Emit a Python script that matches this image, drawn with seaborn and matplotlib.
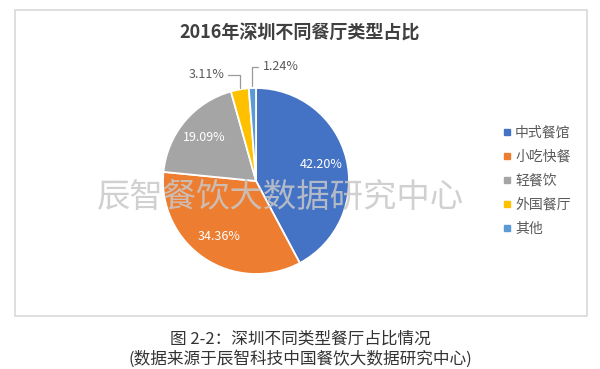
import matplotlib
matplotlib.use("Agg")
import matplotlib.pyplot as plt
import seaborn as sns
from matplotlib.patches import Rectangle
from matplotlib.lines import Line2D
import numpy as np

# data
categories = ["中式餐馆", "小吃快餐", "轻餐饮", "外国餐厅", "其他"]
shares = [42.20, 34.36, 19.09, 3.11, 1.24]
colors = ["#4472C4", "#ED7D31", "#A5A5A5", "#FFC000", "#5B9BD5"]

title = "2016年深圳不同餐厅类型占比"
watermark = "辰智餐饮大数据研究中心"
caption1 = "图 2-2：深圳不同类型餐厅占比情况"
caption2 = "(数据来源于辰智科技中国餐饮大数据研究中心)"

sns.set_theme(style="white")
plt.rcParams["font.family"] = ["Noto Sans CJK SC", "DejaVu Sans"]

fig = plt.figure(figsize=(6, 3.69), dpi=100)
fig.patch.set_facecolor("white")

# chart frame
fig.patches.append(Rectangle((15 / 600, 1 - 316 / 369), 572 / 600, 306 / 369,
                             transform=fig.transFigure, fill=False,
                             edgecolor="#d9d9d9", lw=1.2))

ax = fig.add_axes([0.2717, 0.2575, 0.31, 0.504])


def fmt(p):
    return "%.2f%%" % p if p >= 5 else ""


wedges, texts, autotexts = ax.pie(
    shares, colors=colors, startangle=90, counterclock=False,
    autopct=fmt, pctdistance=0.72,
    wedgeprops=dict(edgecolor="white", linewidth=1.3),
    textprops=dict(color="white", fontsize=9),
)
ax.set_xlim(-1, 1)
ax.set_ylim(-1, 1)
ax.set_aspect("equal")

# small slices: outside labels with elbow leader lines
# (rise, horizontal run, text gap) in radius units
leaders = {3: (0.16, -0.13, -0.16), 4: (0.23, 0.065, 0.11)}
for i, (rise, run, gap) in leaders.items():
    w = wedges[i]
    th = np.deg2rad((w.theta1 + w.theta2) / 2)
    px, py = np.cos(th), np.sin(th)
    ty = py + rise
    ax.plot([px, px, px + run], [py + 0.02, ty, ty], color="#9a9a9a",
            lw=0.9, clip_on=False)
    ax.text(px + gap, ty, "%.2f%%" % shares[i], ha="right" if gap < 0 else "left",
            va="center", fontsize=9, color="#595959")

handles = [Line2D([0], [0], marker="s", linestyle="", markersize=4,
                  markerfacecolor=c, markeredgecolor=c) for c in colors]
fig.legend(handles, categories, loc="center left",
           bbox_to_anchor=(490 / 600, 1 - 181 / 369), frameon=False,
           fontsize=10, handlelength=0.6, handletextpad=0.3,
           labelspacing=0.72, labelcolor="#595959")

fig.text(0.5, 1 - 33 / 369, title, ha="center", va="center",
         fontsize=13, fontweight="bold", color="#404040")
fig.text(280 / 600, 1 - 197 / 369, watermark, ha="center", va="center",
         fontsize=24, color="#c8c8c8", alpha=0.85, zorder=10)
fig.text(0.5, 1 - 339 / 369, caption1, ha="center", va="center",
         fontsize=12, color="#333333")
fig.text(0.5, 1 - 359 / 369, caption2, ha="center", va="center",
         fontsize=12, color="#333333")

fig.savefig("out.png", dpi=100)
